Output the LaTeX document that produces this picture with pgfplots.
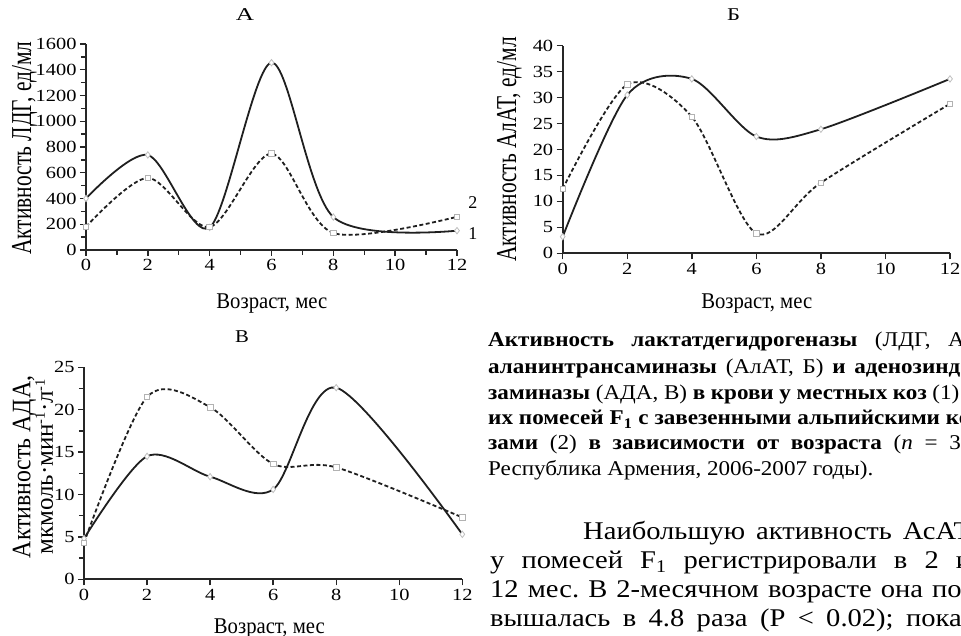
\documentclass[border=0pt]{standalone}
\usepackage{fontspec}
\setmainfont{Liberation Serif}
\usepackage{graphicx}
\usepackage{pgfplots}
\pgfplotsset{compat=1.18}
\frenchspacing

% the scan is stretched unevenly, so some text is widened with \scalebox
\newcommand\sx[2]{\scalebox{#1}[1]{#2}}
\newcommand\sy[2]{\scalebox{1}[#1]{#2}}
\newcommand\supr[1]{\raisebox{0.32em}{\scalebox{0.58}{#1}}}
\newcommand\capf{\fontsize{21}{24}\selectfont}
\newcommand\bodyf{\fontsize{25.5}{29}\selectfont}

\pgfplotsset{
  agechart/.style={
    scale only axis, axis lines=left,
    axis line style={-, line width=1.6pt, black!85},
    xmin=0, xmax=12, ymin=0,
    xtick={0,2,...,12},
    tick align=outside, major tick length=6pt, minor tick length=5pt,
    tick style={line width=1.4pt, black!85},
    tick label style={font=\fontsize{17}{17}\selectfont},
    /pgf/number format/assume math mode=true,
    /pgf/number format/1000 sep={},
    scaled y ticks=false,
    xticklabel={\sx{1.2}{\pgfmathprintnumber{\tick}}},
    yticklabel={\sx{1.2}{\pgfmathprintnumber{\tick}}},
    xlabel style={font=\fontsize{22.5}{22.5}\selectfont, anchor=base},
    ylabel style={font=\fontsize{21.4}{21.4}\selectfont, anchor=base},
    title style={font=\fontsize{18}{18}\selectfont, anchor=base},
    clip=false,
  },
  s1/.style={black!88, line width=1.8pt, smooth,
    mark=diamond*, mark size=3.2pt,
    mark options={solid, draw=black!25, fill=white, line width=0.8pt}},
  s2/.style={black!88, line width=1.8pt, dash pattern=on 4pt off 2.5pt, smooth,
    mark=square*, mark size=2.8pt,
    mark options={solid, draw=black!30, fill=white, line width=0.8pt}},
}

\begin{document}
\begin{tikzpicture}[x=1pt, y=1pt]
\useasboundingbox (0,0) rectangle (961,636);
\clip (0,0) rectangle (961,636);

% A: LDH
\begin{axis}[agechart, at={(86pt,386pt)}, anchor=south west,
    width=371pt, height=206pt, ymax=1600,
    ytick={0,200,...,1600}, minor x tick num=1, minor y tick num=1,
    title={\sx{1.4}{А}}, title style={at={(axis description cs:0.4286,1.084)}},
    xlabel={\sx{0.92}{Возраст, мес}},
    xlabel style={at={(axis description cs:0.501,-0.282)}},
    ylabel={\sy{1.35}{Активность ЛДГ, ед/мл}},
    ylabel style={at={(axis description cs:-0.148,0.495)}}]
  \addplot[s1] coordinates {(0,400) (2,738) (4,175) (6,1455) (8,256) (12,150)};
  \addplot[s2] coordinates {(0,180) (2,560) (4,178) (6,748) (8,132) (12,258)};
  \node[anchor=base west, font=\fontsize{18}{18}\selectfont, inner sep=0] at (axis cs:12.36,326) {2};
  \node[anchor=base west, font=\fontsize{18}{18}\selectfont, inner sep=0] at (axis cs:12.36,85) {1};
\end{axis}

% B: ALT
\begin{axis}[agechart, at={(562.7pt,382.7pt)}, anchor=south west,
    width=387.3pt, height=207.6pt, ymax=40,
    ytick={0,5,...,40},
    title={\sx{1.25}{Б}}, title style={at={(axis description cs:0.441,1.092)}},
    xlabel={\sx{0.92}{Возраст, мес}},
    xlabel style={at={(axis description cs:0.501,-0.265)}},
    ylabel={\sy{1.35}{Активность АлАТ, ед/мл}},
    ylabel style={at={(axis description cs:-0.12,0.5)}}]
  \addplot[s1] coordinates {(0,3.2) (2,30.5) (4,33.6) (6,22.5) (8,23.9) (12,33.6)};
  \addplot[s2] coordinates {(0,12.4) (2,32.5) (4,26.3) (6,3.85) (8,13.6) (12,28.8)};
\end{axis}

% V: ADA
\begin{axis}[agechart, at={(84pt,56.7pt)}, anchor=south west,
    width=378.3pt, height=212pt, ymax=25,
    ytick={0,5,...,25}, minor y tick num=1,
    title={\sx{1.15}{В}}, title style={at={(axis description cs:0.418,1.09)}},
    xlabel={\sx{0.92}{Возраст, мес}},
    xlabel style={at={(axis description cs:0.49,-0.255)}},
    ylabel={\sy{1.12}{Активность АДА,}},
    ylabel style={font=\fontsize{23.8}{23.8}\selectfont, at={(axis description cs:-0.142,0.53)}}]
  \addplot[s1] coordinates {(0,4.8) (2,14.5) (4,12.1) (6,10.6) (8,22.6) (12,5.3)};
  \addplot[s2] coordinates {(0,4.3) (2,21.5) (4,20.3) (6,13.6) (8,13.2) (12,7.3)};
  \node[rotate=90, anchor=base, inner sep=0, font=\fontsize{25}{25}\selectfont]
    at (axis description cs:-0.082,0.53) {мкмоль·мин\supr{-1}·л\supr{-1}};
\end{axis}

% caption
\begin{scope}[every node/.style={anchor=base west, inner sep=0, font=\capf}]
\node at (488,289.3) {\sx{1.1}{\makebox[445.5pt][s]{\textbf{Активность лактатдегидрогеназы} (ЛДГ, А),}}};
\node at (488,262.7) {\sx{1.1}{\makebox[445.5pt][s]{\textbf{аланинтрансаминазы} (АлАТ, Б) \textbf{и аденозинде-}}}};
\node at (488,236.7) {\sx{1.1}{\makebox[445.5pt][s]{\textbf{заминазы} (АДА, В) \textbf{в крови у местных коз} (1) \textbf{и}}}};
\node at (488,211) {\sx{1.1}{\makebox[445.5pt][s]{\textbf{их помесей F\textsubscript{1} с завезенными альпийскими ко-}}}};
\node at (488,186) {\sx{1.1}{\makebox[445.5pt][s]{\textbf{зами} (2) \textbf{в зависимости от возраста} (\textit{n} = 36,}}};
\node at (488,160.3) {\sx{1.1}{Республика Армения, 2006-2007 годы).}};
\end{scope}

% body text
\begin{scope}[every node/.style={anchor=base west, inner sep=0, font=\bodyf}]
\node at (583,96) {\sx{1.12}{\makebox[346.4pt][s]{Наибольшую активность АсАТ}}};
\node at (490,67.7) {\sx{1.12}{\makebox[429.5pt][s]{у помесей F\textsubscript{1} регистрировали в 2 и}}};
\node at (490,38.7) {\sx{1.12}{\makebox[429.5pt][s]{12 мес. В 2-месячном возрасте она по-}}};
\node at (490,9.3) {\sx{1.12}{\makebox[429.5pt][s]{вышалась в 4.8 раза (P < 0.02); пока-}}};
\end{scope}
\end{tikzpicture}
\end{document}
